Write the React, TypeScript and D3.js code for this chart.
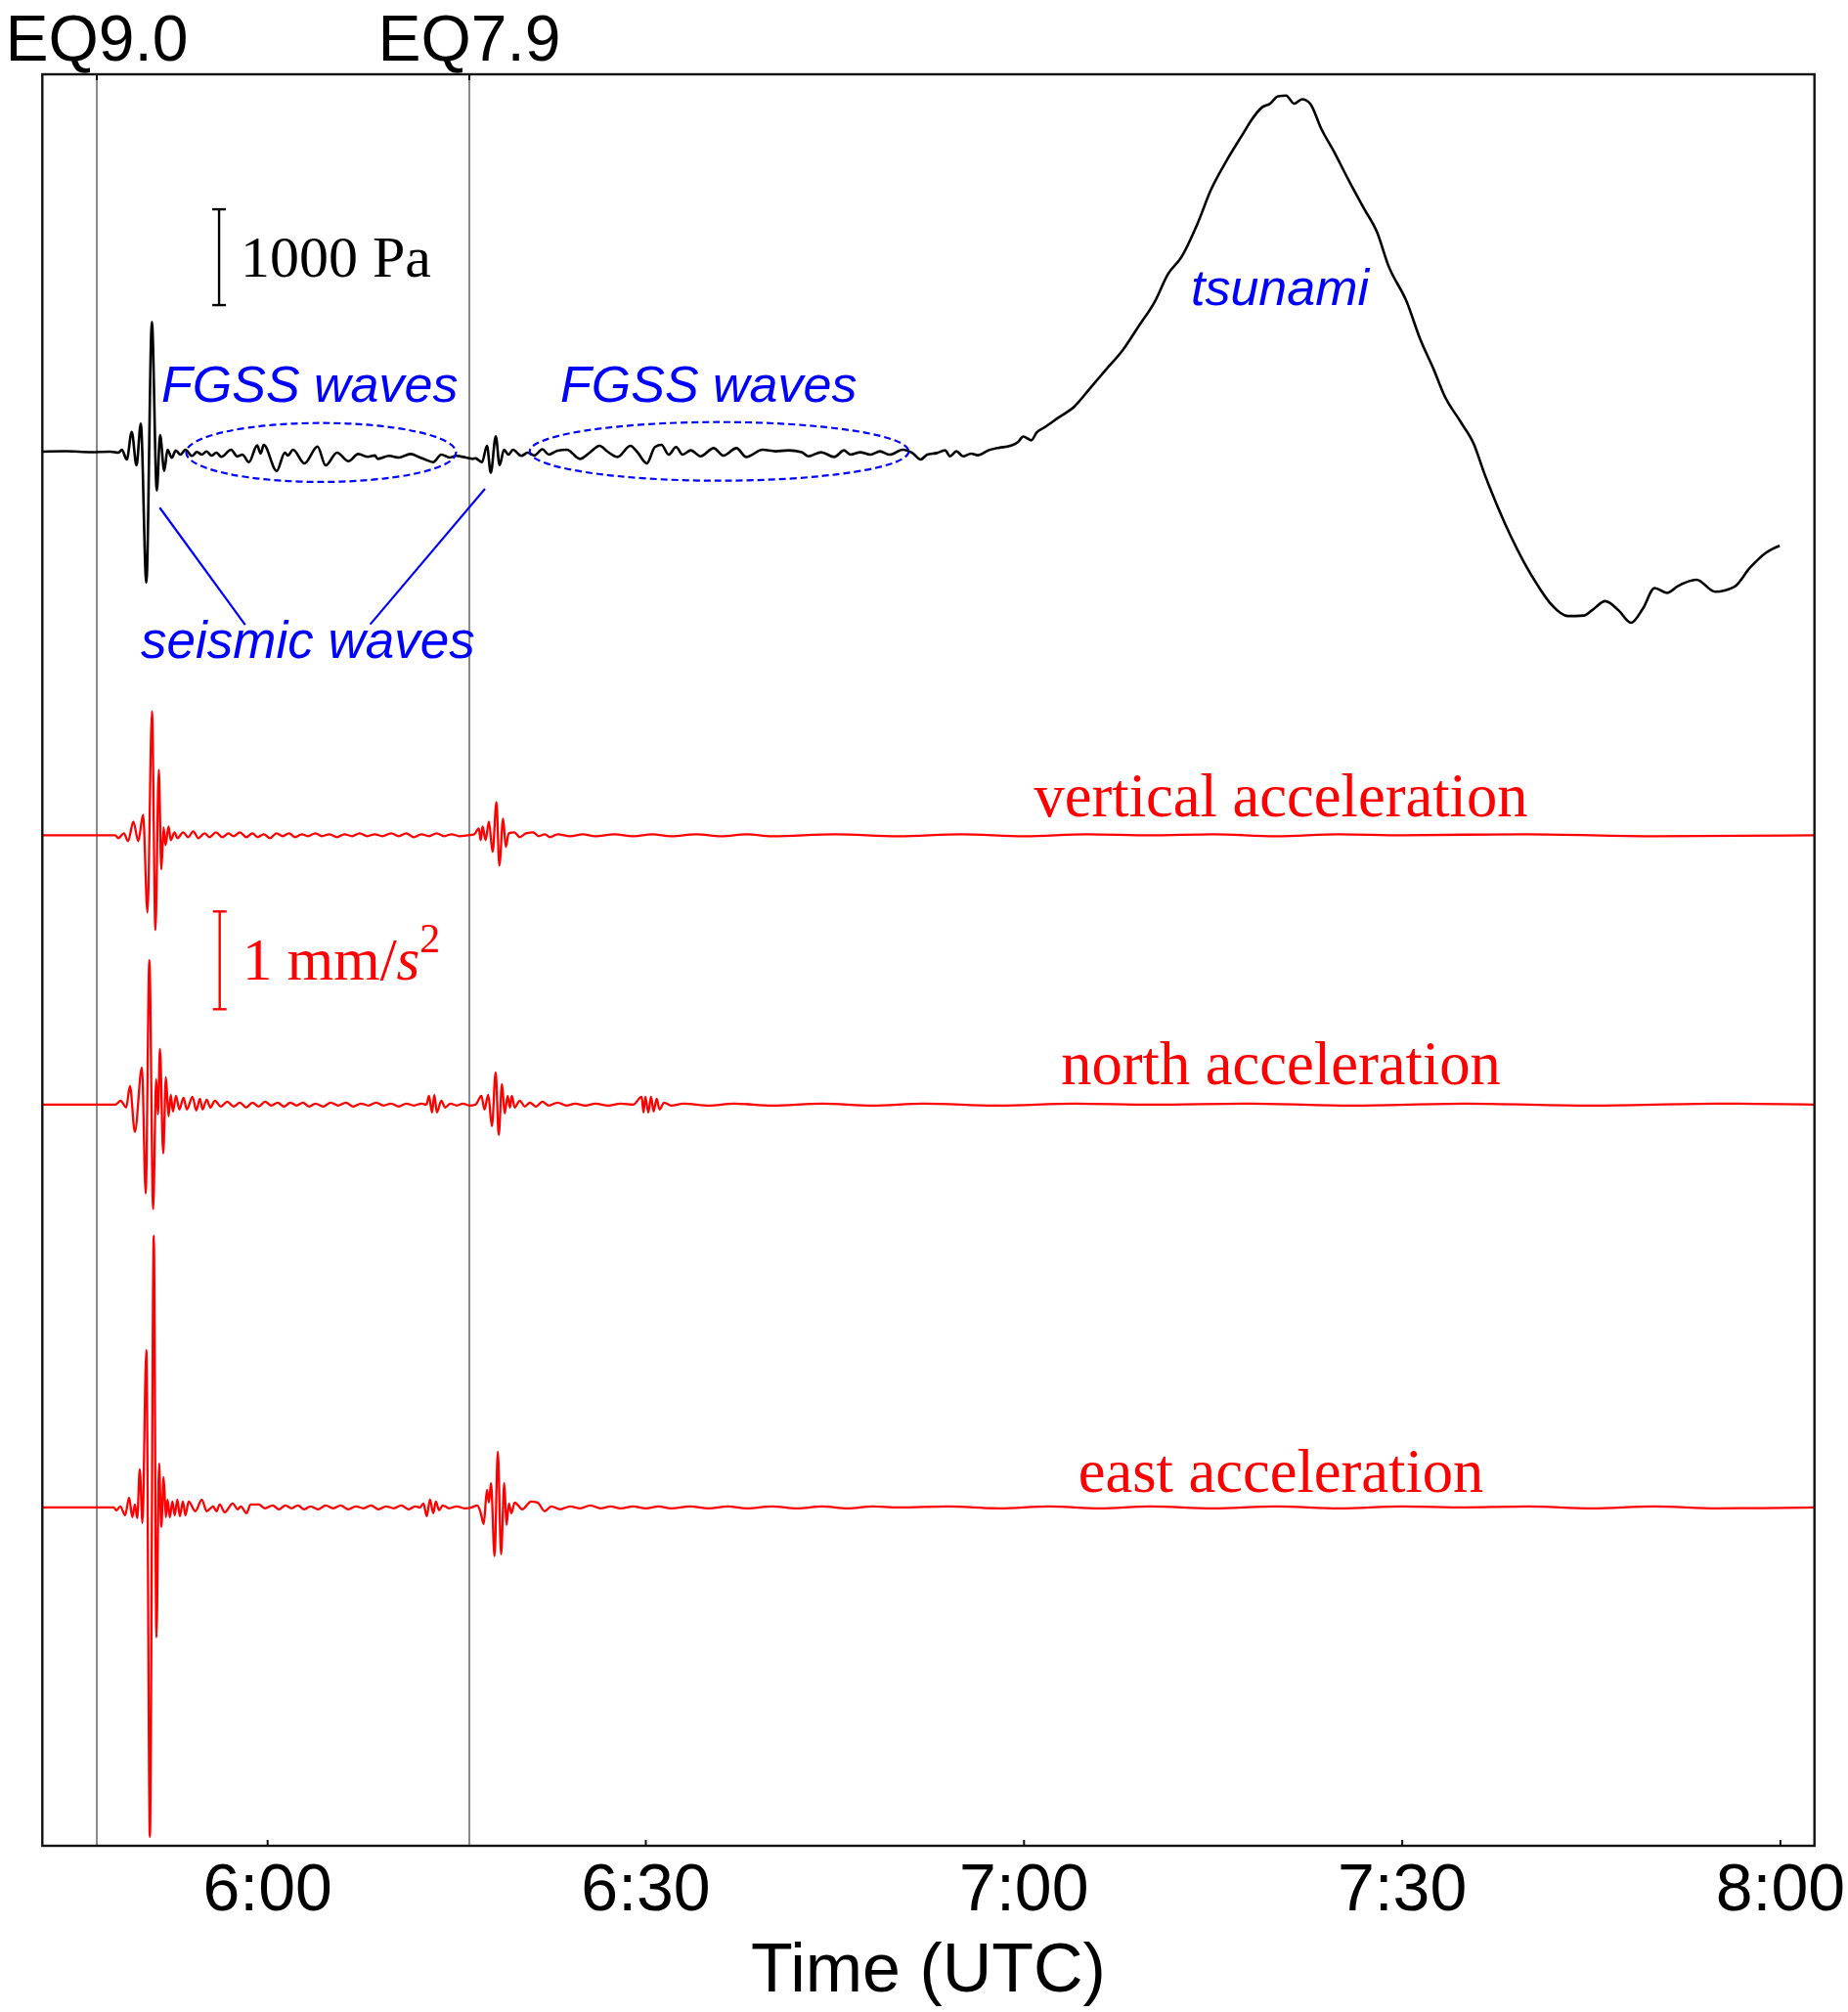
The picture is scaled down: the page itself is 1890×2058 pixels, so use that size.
import React from 'react';
import * as d3 from 'd3';

// ---------- data (time in minutes after 05:00 UTC) ----------
const timeDomain: [number, number] = [42.13, 182.7];
const tickMinutes = [60, 90, 120, 150, 180];
const tickLabels = ['6:00', '6:30', '7:00', '7:30', '8:00'];
const eqMinutes = [46.45, 76.0];
const eqLabels = ['EQ9.0', 'EQ7.9'];

// ocean-bottom pressure (Pa)
const pressure: [number, number][] = [
  [42.13, 0], [44, 5], [46, -5], [47.5, 0], [48.18, -10], [48.44, 20], [48.83, -82], [49.22, 207], [49.6, -143],
  [49.94, 292], [50.38, -1367], [50.82, 1353], [51.21, -405], [51.47, 173], [51.8, -201], [52.06, 20], [52.4, -64],
  [52.71, 13], [53.09, -30], [53.48, 20], [54.0, -44], [54.39, -3], [54.78, -30], [55.16, 3], [55.55, -41],
  [55.94, -10], [56.33, -54], [57.1, 20], [57.6, -50], [58.0, -30], [58.52, -109], [59.17, 65], [59.45, -20],
  [59.69, 71], [60.72, -201], [61.37, -10], [61.6, -40], [62.02, 20], [62.92, -122], [63.96, 54], [64.6, -143],
  [65.51, -10], [66.41, -99], [67.19, -24], [67.96, -54], [68.5, -40], [68.74, -75], [69.64, -44], [70.42, -61],
  [71.33, -24], [72.1, -61], [72.62, -88], [73.14, -109], [73.78, -30], [74.43, -61], [74.95, -44], [75.72, -61],
  [76.24, -75], [76.5, -70], [77.0, -110], [77.4, 60], [77.7, -220], [78.1, 160], [78.4, -140], [78.75, 20],
  [79.1, -30], [79.47, 20], [80.12, -44], [80.63, -10], [81.15, -40], [81.8, 25], [82.3, -30], [83.0, 10],
  [83.74, 20], [84.77, -75], [85.55, -10], [86.33, 61], [86.97, 0], [87.75, -55], [88.78, 61], [89.3, 0],
  [90.08, -122], [90.72, 48], [91.24, 71], [91.81, -31], [92.4, 48], [92.92, -31], [93.57, 14], [94.34, -48],
  [95.38, 37], [96.15, -41], [97.19, 37], [97.96, -55], [99.26, 20], [100.29, 4], [101.32, 14], [102.36, -6],
  [102.88, -48], [103.91, -6], [104.95, -55], [105.72, 14], [106.24, -31], [107.01, -6], [107.79, -31],
  [108.57, 4], [109.34, -31], [110.38, 20], [111.15, -14], [111.8, -82], [112.32, -31], [113.09, -14],
  [113.74, 14], [114.13, -48], [114.64, 4], [115.16, -48], [115.81, -20], [116.32, -37], [117.2, 15],
  [118.02, 41], [118.9, 61], [119.51, 99], [119.94, 158], [120.58, 119], [121.0, 200], [121.64, 255],
  [122.7, 353], [123.98, 470], [125.26, 665], [126.53, 861], [127.81, 1056], [129.09, 1309], [130.36, 1563],
  [131.43, 1856], [132.49, 2032], [133.77, 2383], [134.83, 2734], [136.11, 3047], [137.38, 3320],
  [138.02, 3457], [138.87, 3593], [139.51, 3632], [140.15, 3710], [140.79, 3717], [141.43, 3632],
  [142.06, 3679], [142.7, 3632], [143.55, 3378], [144.62, 3124], [145.68, 2851], [146.96, 2539],
  [148.02, 2285], [148.87, 1953], [150.36, 1563], [151.43, 1173], [152.49, 861], [153.34, 587], [154.62, 314],
  [155.68, 80], [156.53, -233], [157.6, -584], [158.66, -896], [159.72, -1169], [160.79, -1404],
  [161.85, -1599], [163.13, -1716], [164.4, -1710], [165.04, -1657], [166.11, -1560], [167.17, -1657],
  [168.15, -1786], [169.09, -1638], [170.02, -1423], [171.0, -1474], [171.85, -1404], [173.34, -1337],
  [174.83, -1462], [176.32, -1412], [177.6, -1209], [178.87, -1053], [179.94, -982],
];

// accelerations (mm/s^2)
const verticalAcc: [number, number][] = [
  [42.13, 0], [47.9, 0], [48.16, -0.03], [48.6, 0.02], [48.93, -0.06], [49.35, 0.14], [49.74, -0.06],
  [50.12, 0.21], [50.47, -0.79], [50.83, 1.27], [51.1, -0.97], [51.37, 0.67], [51.57, -0.35], [51.75, 0.08],
  [51.9, -0.1], [52.14, 0.09], [52.32, -0.05], [52.61, 0.03], [52.85, -0.03], [53.3, 0.03], [53.7, -0.02],
  [54.1, 0.04], [54.5, -0.03], [55.0, 0.02], [55.4, -0.02], [55.9, 0.03], [56.4, -0.02], [56.9, 0.02],
  [57.3, -0.01], [57.8, 0.03], [58.3, -0.02], [58.8, 0.02], [59.2, -0.02], [59.7, 0.01], [60.2, -0.03],
  [60.7, 0.02], [61.2, -0.01], [61.7, 0.02], [62.2, -0.02], [62.7, 0.01], [63.2, -0.01], [63.8, 0.02],
  [64.3, -0.01], [64.9, 0.01], [65.5, -0.02], [66.1, 0.01], [66.7, -0.01], [67.3, 0.02], [67.9, -0.01],
  [68.5, 0.01], [69.1, -0.01], [69.8, 0.02], [70.4, -0.01], [71.0, 0.02], [71.6, -0.02], [72.2, 0.01],
  [72.8, -0.01], [73.4, 0.02], [74.0, -0.01], [74.6, 0.01], [75.2, -0.01], [75.9, 0], [76.4, 0.01],
  [76.75, 0.07], [76.9, -0.05], [77.05, 0.09], [77.29, -0.05], [77.55, 0.14], [77.85, -0.17], [78.15, 0.34],
  [78.38, -0.31], [78.68, 0.17], [78.89, -0.12], [79.13, 0.02], [79.57, 0.03], [80.0, -0.02], [80.5, 0.02],
  [81.06, 0.03], [81.5, -0.01], [82.0, 0.01], [82.4, -0.02], [83, 0.01], [84, -0.01], [85, 0.01], [86, -0.01],
  [87.5, 0.01], [89, -0.01], [90.5, 0.01], [92, -0.01], [94, 0.01], [96, -0.01], [98, 0.01], [100, -0.01],
  [105, 0.01], [110, -0.01], [115, 0.01], [120, -0.01], [125, 0.01], [130, 0], [135, 0.01], [140, -0.01],
  [145, 0.01], [150, 0], [160, 0.01], [170, -0.01], [182.7, 0],
];

const northAcc: [number, number][] = [
  [42.13, 0], [47.95, 0], [48.34, 0.04], [48.78, -0.03], [49.08, 0.19], [49.47, -0.28], [50.03, 0.38],
  [50.33, -0.91], [50.62, 1.48], [50.92, -1.07], [51.16, 0.26], [51.3, -0.1], [51.46, 0.57], [51.72, -0.5],
  [51.93, 0.28], [52.14, -0.12], [52.32, 0.1], [52.49, -0.07], [52.73, 0.09], [53.0, -0.05], [53.33, 0.07],
  [53.59, -0.05], [54.04, 0.08], [54.34, -0.06], [54.63, 0.06], [54.84, -0.05], [55.17, 0.05], [55.46, -0.03],
  [55.82, 0.04], [56.3, -0.02], [56.8, 0.03], [57.3, -0.02], [57.8, 0.02], [58.3, -0.03], [58.8, 0.02],
  [59.3, -0.02], [59.8, 0.03], [60.3, -0.01], [60.8, 0.02], [61.3, -0.02], [61.8, 0.02], [62.3, -0.01],
  [62.8, 0.02], [63.3, -0.02], [63.8, 0.01], [64.4, -0.02], [65.0, 0.02], [65.6, -0.01], [66.2, 0.02],
  [66.8, -0.02], [67.4, 0.01], [68.0, -0.01], [68.6, 0.02], [69.2, -0.01], [69.8, 0.01], [70.4, -0.02],
  [71.0, 0.01], [71.6, -0.01], [72.2, 0.01], [72.6, 0], [72.8, 0.09], [73.04, -0.08], [73.22, 0.1],
  [73.43, -0.08], [73.78, 0.04], [74.08, -0.03], [74.5, 0.01], [75.0, -0.01], [75.5, 0.01], [76.0, -0.01],
  [76.5, 0], [76.96, 0.09], [77.2, -0.05], [77.5, 0.1], [77.79, -0.22], [78.09, 0.33], [78.33, -0.31],
  [78.59, 0.21], [78.8, -0.09], [79.04, 0.09], [79.22, -0.03], [79.37, 0.09], [79.6, -0.03], [80.0, 0.04],
  [80.4, -0.02], [80.8, 0.02], [81.3, -0.02], [81.8, 0.03], [82.3, -0.01], [83.0, 0.02], [83.7, -0.01],
  [84.4, 0.01], [85.2, -0.01], [86, 0.01], [87, -0.01], [88, 0.01], [89, 0], [89.67, 0.08], [89.82, -0.08],
  [89.96, 0.08], [90.2, -0.08], [90.41, 0.08], [90.62, -0.07], [90.86, 0.06], [91.09, -0.05], [91.45, 0.02],
  [92, -0.01], [93, 0.01], [95, -0.01], [97, 0.01], [100, -0.01], [104, 0.01], [108, -0.01], [112, 0.01],
  [118, -0.01], [124, 0.01], [130, 0], [138, 0.01], [146, -0.01], [155, 0.01], [165, -0.01], [175, 0.01],
  [182.7, 0],
];

const eastAcc: [number, number][] = [
  [42.13, 0], [47.79, 0], [48.0, -0.03], [48.31, 0.01], [48.7, -0.08], [49.01, 0.1], [49.27, -0.1],
  [49.47, 0.03], [49.66, -0.11], [49.86, 0.39], [50.07, -0.16], [50.38, 1.61], [50.66, -3.37], [50.97, 2.78],
  [51.18, -1.33], [51.39, 0.45], [51.57, -0.2], [51.75, 0.31], [51.93, -0.1], [52.06, 0.08], [52.24, -0.1],
  [52.45, 0.06], [52.63, -0.08], [52.84, 0.08], [53.04, -0.09], [53.28, 0.06], [53.48, -0.08], [53.74, 0.06],
  [54.26, -0.04], [54.78, 0.08], [55.16, -0.04], [55.68, 0.01], [55.94, -0.04], [56.2, 0.03], [56.59, -0.05],
  [57.23, 0.04], [57.62, -0.02], [57.88, 0.01], [58.32, -0.06], [58.65, 0.03], [59.3, 0.03], [59.8, -0.01],
  [60.4, 0.02], [60.9, -0.02], [61.4, 0.02], [61.9, -0.01], [62.4, 0.02], [62.9, -0.02], [63.4, 0.01],
  [64.0, -0.02], [64.6, 0.02], [65.2, -0.01], [65.8, 0.02], [66.4, -0.02], [67.0, 0.01], [67.6, -0.01],
  [68.2, 0.02], [68.8, -0.02], [69.4, 0.01], [70.0, -0.01], [70.6, 0.02], [71.2, -0.02], [71.7, 0.01],
  [72.1, 0], [72.36, 0.04], [72.62, -0.09], [72.88, 0.08], [73.14, -0.06], [73.34, 0.06], [73.6, -0.03],
  [73.9, 0.02], [74.4, -0.01], [75, 0.01], [75.6, -0.01], [76.2, 0], [76.63, 0.02], [76.89, -0.05],
  [77.14, -0.17], [77.4, 0.18], [77.55, 0.05], [77.72, 0.25], [78.0, -0.5], [78.26, 0.57], [78.52, -0.48],
  [78.77, 0.25], [78.95, -0.18], [79.14, 0.04], [79.34, -0.06], [79.6, 0.05], [80.2, -0.02], [80.9, 0.06],
  [81.41, 0.05], [81.98, -0.04], [82.5, 0.01], [83.2, -0.02], [84, 0.01], [84.8, -0.01], [85.6, 0.02],
  [86.4, -0.01], [87.2, 0.01], [88, -0.01], [89, 0.01], [90, -0.01], [91, 0.01], [92, -0.01], [93.5, 0.01],
  [95, -0.01], [96.5, 0.01], [98, -0.01], [100, 0.01], [102, -0.01], [104, 0.01], [106, -0.01], [108, 0.01],
  [110, 0], [114, 0.01], [118, -0.01], [122, 0.01], [126, -0.01], [130, 0.01], [135, -0.01], [140, 0.01],
  [145, -0.01], [150, 0.01], [155, 0], [160, 0.01], [165, -0.01], [170, 0.01], [175, -0.01], [182.7, 0],
];

const accSeries = [verticalAcc, northAcc, eastAcc];
const accNames = ['vertical acceleration', 'north acceleration', 'east acceleration'];

// annotation anchors in data units
const fgssEllipses = [
  { t0: 53.54, t1: 74.95, p0: -316, p1: 299 },
  { t0: 80.79, t1: 110.85, p0: -303, p1: 309 },
];
const seismicLeaders = [
  { t0: 51.44, p0: -584, t1: 58.22, p1: -1807 },
  { t0: 77.24, p0: -388, t1: 68.14, p1: -1802 },
];
const pressureBar = { t: 56.15, from: 1530, to: 2530 };
const accBar = { t: 56.2, from: -1.78, to: -0.78 };

// ---------- layout ----------
const W = 1890;
const H = 2058;
const plot = { left: 43.3, right: 1855.7, top: 76, bottom: 1888 };
const accBaselines = [854.3, 1129.8, 1541.8];
const accLabelY = [835, 1109, 1526];
const SANS = '"Liberation Sans", Arial, Helvetica, sans-serif';
const SERIF = '"Liberation Serif", "Times New Roman", serif';

export default function App() {
  const x = d3.scaleLinear().domain(timeDomain).range([plot.left, plot.right]);
  const yP = d3.scaleLinear().domain([0, 1000]).range([462, 364]);
  const yAcc = accBaselines.map((b) => d3.scaleLinear().domain([0, 1]).range([b, b - 100]));

  const pLine = d3
    .line<[number, number]>()
    .x((d) => x(d[0]))
    .y((d) => yP(d[1]))
    .curve(d3.curveMonotoneX);

  const accLines = yAcc.map((ys) =>
    d3
      .line<[number, number]>()
      .x((d) => x(d[0]))
      .y((d) => ys(d[1]))
      .curve(d3.curveMonotoneX)
  );

  return (
    <svg
      width={W}
      height={H}
      viewBox={`0 0 ${W} ${H}`}
      style={{ position: 'absolute', left: 0, top: 0, background: '#fff' }}
    >
      <rect x={0} y={0} width={W} height={H} fill="#fff" />

      {/* earthquake lines */}
      {eqMinutes.map((m, i) => (
        <g key={'eq' + i}>
          <line x1={x(m)} x2={x(m)} y1={plot.top} y2={plot.bottom} stroke="#8a8a8a" strokeWidth={2} />
          <line x1={x(m)} x2={x(m)} y1={plot.top} y2={plot.top + 6} stroke="#000" strokeWidth={2} />
          <text
            x={x(m)}
            y={62}
            textAnchor="middle"
            fontFamily={SANS}
            fontSize={66}
            fill="#000"
          >
            {eqLabels[i]}
          </text>
        </g>
      ))}

      {/* acceleration traces */}
      {accSeries.map((s, i) => (
        <path key={'acc' + i} d={accLines[i](s) || ''} fill="none" stroke="#ff0000" strokeWidth={2.3} strokeLinejoin="round" />
      ))}

      {/* pressure trace */}
      <path d={pLine(pressure) || ''} fill="none" stroke="#000" strokeWidth={2.6} strokeLinejoin="round" />

      {/* FGSS ellipses */}
      {fgssEllipses.map((e, i) => {
        const cx = (x(e.t0) + x(e.t1)) / 2;
        const cy = (yP(e.p0) + yP(e.p1)) / 2;
        const rx = Math.abs(x(e.t1) - x(e.t0)) / 2;
        const ry = Math.abs(yP(e.p1) - yP(e.p0)) / 2;
        return (
          <ellipse
            key={'el' + i}
            cx={cx}
            cy={cy}
            rx={rx}
            ry={ry}
            fill="none"
            stroke="#0000ff"
            strokeWidth={2.2}
            strokeDasharray="7,4"
          />
        );
      })}

      {/* seismic wave leaders */}
      {seismicLeaders.map((l, i) => (
        <line
          key={'ld' + i}
          x1={x(l.t0)}
          y1={yP(l.p0)}
          x2={x(l.t1)}
          y2={yP(l.p1)}
          stroke="#0000ff"
          strokeWidth={2.2}
        />
      ))}

      {/* blue annotation texts */}
      <g fontFamily={SANS} fontStyle="italic" fontSize={52} fill="#0000ff">
        <text x={165} y={411}>FGSS waves</text>
        <text x={573} y={411}>FGSS waves</text>
        <text x={1218} y={312}>tsunami</text>
        <text x={144} y={673} fontSize={53}>seismic waves</text>
      </g>

      {/* pressure scale bar */}
      <g stroke="#000" strokeWidth={2.4}>
        <line x1={x(pressureBar.t)} x2={x(pressureBar.t)} y1={yP(pressureBar.from)} y2={yP(pressureBar.to)} />
        <line x1={x(pressureBar.t) - 7} x2={x(pressureBar.t) + 7} y1={yP(pressureBar.from)} y2={yP(pressureBar.from)} />
        <line x1={x(pressureBar.t) - 7} x2={x(pressureBar.t) + 7} y1={yP(pressureBar.to)} y2={yP(pressureBar.to)} />
      </g>
      <text x={246} y={283} fontFamily={SERIF} fontSize={60} fill="#000">
        1000 Pa
      </text>

      {/* acceleration scale bar */}
      <g stroke="#ff0000" strokeWidth={2.4}>
        <line x1={x(accBar.t)} x2={x(accBar.t)} y1={yAcc[0](accBar.from)} y2={yAcc[0](accBar.to)} />
        <line x1={x(accBar.t) - 7} x2={x(accBar.t) + 7} y1={yAcc[0](accBar.from)} y2={yAcc[0](accBar.from)} />
        <line x1={x(accBar.t) - 7} x2={x(accBar.t) + 7} y1={yAcc[0](accBar.to)} y2={yAcc[0](accBar.to)} />
      </g>
      <text x={248} y={1002} fontFamily={SERIF} fontSize={61} fill="#ff0000">
        <tspan>1 mm/</tspan>
        <tspan fontStyle="italic">s</tspan>
        <tspan fontSize={42} dy={-28}>2</tspan>
      </text>

      {/* acceleration labels */}
      {accNames.map((n, i) => (
        <text
          key={'an' + i}
          x={1310}
          y={accLabelY[i]}
          textAnchor="middle"
          fontFamily={SERIF}
          fontSize={62.5}
          fill="#ff0000"
        >
          {n}
        </text>
      ))}

      {/* frame */}
      <rect
        x={plot.left}
        y={plot.top}
        width={plot.right - plot.left}
        height={plot.bottom - plot.top}
        fill="none"
        stroke="#111"
        strokeWidth={2.4}
      />

      {/* x ticks */}
      {tickMinutes.map((m, i) => (
        <g key={'tk' + i}>
          <line x1={x(m)} x2={x(m)} y1={plot.bottom} y2={plot.bottom - 6} stroke="#111" strokeWidth={2} />
          <text
            x={x(m)}
            y={1954}
            textAnchor="middle"
            fontFamily={SANS}
            fontSize={68}
            fill="#000"
          >
            {tickLabels[i]}
          </text>
        </g>
      ))}
      <text
        x={(plot.left + plot.right) / 2}
        y={2037}
        textAnchor="middle"
        fontFamily={SANS}
        fontSize={70}
        fill="#000"
      >
        Time (UTC)
      </text>
    </svg>
  );
}
